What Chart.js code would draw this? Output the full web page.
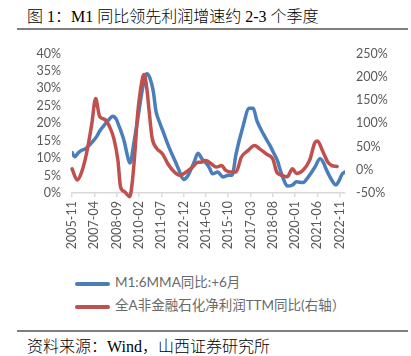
<!DOCTYPE html>
<html><head><meta charset="utf-8">
<script src="https://cdn.jsdelivr.net/npm/chart.js@4.4.0/dist/chart.umd.min.js"></script>
<style>
html,body{margin:0;padding:0;background:#fff;}
body{width:411px;height:356px;position:relative;overflow:hidden;}
.t{position:absolute;white-space:nowrap;font-family:"Liberation Serif","Noto Sans CJK SC",serif;font-weight:300;color:#000;}
.hr{position:absolute;left:17px;width:391px;height:1.5px;background:#7f7f7f;}
.lg{position:absolute;left:75px;font-family:Lato,"Noto Sans CJK SC",sans-serif;font-size:13.5px;color:#6a6a6a;white-space:nowrap;}
.sw{display:inline-block;width:35px;height:4px;border-radius:2px;vertical-align:middle;margin-right:5px;}
</style></head>
<body>
<div class="t" id="title" style="left:27px;top:3px;font-size:16px;"></div>
<div class="hr" style="top:28px;"></div>
<canvas id="c" width="411" height="225" style="position:absolute;left:0;top:35px;"></canvas>
<div id="legend"></div>
<div class="hr" style="top:330px;"></div>
<div class="t" id="src" style="left:27px;top:333px;font-size:16px;"></div>
<script>
const titleText = "图 1：M1 同比领先利润增速约 2-3 个季度";
const sourceText = "资料来源：Wind，山西证券研究所";
const seriesNames = ["M1:6MMA同比:+6月", "全A非金融石化净利润TTM同比(右轴）"];
const seriesColors = ["#4a7ebb", "#c0504d"];
const tickLabels = ["2005-11","2007-04","2008-09","2010-02","2011-07","2012-12","2014-05","2015-10","2017-03","2018-08","2020-01","2021-06","2022-11"];
const axisEnd = "2023-03";
const leftTicks = [0,5,10,15,20,25,30,35,40];
const rightTicks = [-50,0,50,100,150,200,250];

const m1Dates = ["2005-11","2006-01","2006-04","2006-06","2006-09","2007-01","2007-06","2007-08","2007-11","2008-03","2008-06","2008-09","2008-10","2009-01","2009-03","2009-05","2009-07","2009-08","2009-10","2010-01","2010-05","2010-08","2010-10","2011-01","2011-03","2011-05","2011-08","2012-01","2012-06","2012-08","2012-12","2013-03","2013-08","2013-11","2014-02","2014-06","2014-08","2014-10","2015-02","2015-06","2015-10","2016-01","2016-04","2016-09","2017-02","2017-05","2017-08","2018-01","2018-06","2018-08","2018-12","2019-01","2019-04","2019-07","2019-11","2020-02","2020-07","2020-11","2021-04","2021-08","2021-11","2021-12","2022-04","2022-08","2022-10","2023-01","2023-03"];
const m1Values = [11.6,10.4,11.6,12.2,12.6,14.0,16.3,17.7,19.2,21.0,22.0,21.0,20.0,17.0,14.5,11.0,8.6,9.3,14.0,21.0,30.4,34.2,33.3,29.0,23.4,21.0,18.0,13.0,8.8,7.0,3.9,4.8,8.8,11.4,9.8,8.2,7.0,5.5,6.0,4.6,5.1,5.1,11.2,18.7,24.3,24.3,20.6,16.8,13.5,12.0,8.8,7.4,4.1,2.0,2.3,3.2,3.0,4.6,7.4,9.8,8.4,7.4,4.3,2.3,3.2,5.5,6.0];

const profitDates = ["2005-11","2006-03","2006-06","2006-10","2007-02","2007-05","2007-08","2007-12","2008-04","2008-07","2008-10","2008-12","2009-03","2009-07","2009-09","2009-11","2010-01","2010-03","2010-05","2010-06","2010-08","2010-10","2010-12","2011-03","2011-08","2011-12","2012-05","2012-09","2013-02","2013-07","2013-11","2014-01","2014-05","2014-09","2015-01","2015-05","2015-08","2015-12","2016-04","2016-08","2017-01","2017-06","2017-10","2018-03","2018-08","2018-11","2019-03","2019-07","2019-11","2020-02","2020-07","2020-12","2021-04","2021-06","2021-10","2022-02","2022-05","2022-09"];
const profitValues = [2,-22,-8,34,97,153,115,108,90,66,20,-37,-47,-58,-25,40,120,168,200,205,175,120,69,48,34,13,-5,-12,-5,6,16,16,20,13,6,9,-1,-5,-5,27,41,52,45,34,23,-5,-12,-15,2,-8,-1,20,58,62,40,16,9,7];

function monthIndex(s){const [y,m]=s.split('-').map(Number);return (y-2005)*12+(m-11);}
function toPoints(d,v){return d.map((s,i)=>({x:monthIndex(s),y:v[i]}));}

document.getElementById('title').textContent = titleText;
document.getElementById('src').textContent = sourceText;
const lg = document.getElementById('legend');
seriesNames.forEach((n,i)=>{
  const d=document.createElement('div');d.className='lg';d.style.top=(271+i*23)+'px';
  const s=document.createElement('span');s.className='sw';s.style.background=seriesColors[i];
  d.appendChild(s);d.appendChild(document.createTextNode(n));lg.appendChild(d);
});

const tickFont = {family:"Lato, 'Liberation Sans', sans-serif", size:12.5};
const tickIdx = tickLabels.map(monthIndex);
new Chart(document.getElementById('c'), {
  type:'line',
  data:{datasets:[
    {label:seriesNames[0], data:toPoints(m1Dates,m1Values), yAxisID:'y', borderColor:seriesColors[0], borderWidth:3.5, pointRadius:0, cubicInterpolationMode:'monotone', order:1, borderCapStyle:'round', borderJoinStyle:'round'},
    {label:seriesNames[1], data:toPoints(profitDates,profitValues), yAxisID:'y2', borderColor:seriesColors[1], borderWidth:3.5, pointRadius:0, cubicInterpolationMode:'monotone', order:0, clip:false, borderCapStyle:'round', borderJoinStyle:'round'}
  ]},
  options:{
    responsive:false, animation:false, devicePixelRatio:1,
    layout:{padding:{top:16,bottom:0,left:0,right:0}},
    plugins:{legend:{display:false}, tooltip:{enabled:false}},
    scales:{
      x:{type:'linear', min:0, max:monthIndex(axisEnd),
        afterBuildTicks:s=>{s.ticks=tickIdx.map(v=>({value:v}));},
        ticks:{autoSkip:false, minRotation:90, maxRotation:90, padding:4, color:'#595959', font:tickFont,
          callback:(v)=>{const k=tickIdx.indexOf(v);return k>=0?tickLabels[k]:'';}},
        grid:{drawOnChartArea:false, tickLength:4, color:'#d9d9d9', lineWidth:1.5},
        border:{display:true, color:'#d9d9d9', width:1.5},
        afterFit:s=>{s.height=67;}
      },
      y:{position:'left', min:0, max:40,
        afterBuildTicks:s=>{s.ticks=leftTicks.map(v=>({value:v}));},
        ticks:{autoSkip:false, padding:11, color:'#595959', font:tickFont, callback:v=>v+'%'},
        grid:{display:false, drawTicks:false}, border:{display:false},
        afterFit:s=>{s.width=72;}
      },
      y2:{position:'right', min:-50, max:250,
        afterBuildTicks:s=>{s.ticks=rightTicks.map(v=>({value:v}));},
        ticks:{autoSkip:false, padding:11, color:'#595959', font:tickFont, callback:v=>v+'%'},
        grid:{display:false, drawTicks:false}, border:{display:false},
        afterFit:s=>{s.width=66;}
      }
    }
  }
});
</script>
</body></html>
